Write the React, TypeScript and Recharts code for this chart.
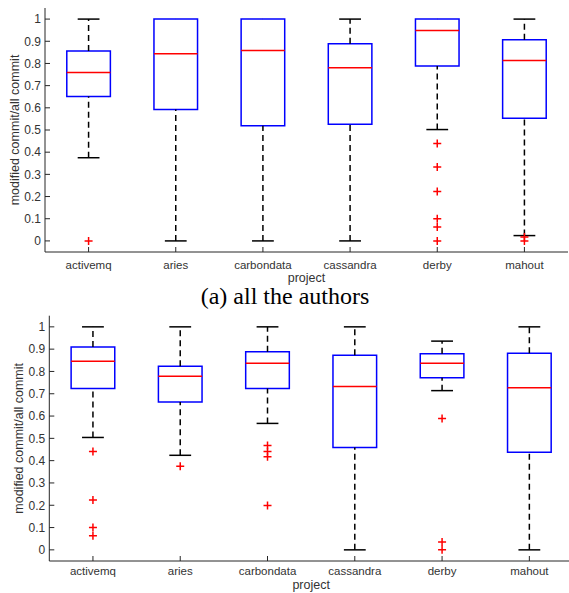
import React from 'react';
import { ComposedChart, XAxis, YAxis, Scatter, ReferenceArea, ReferenceLine } from 'recharts';

const projects = ['activemq', 'aries', 'carbondata', 'cassandra', 'derby', 'mahout'];
const yTicks = [0, 0.1, 0.2, 0.3, 0.4, 0.5, 0.6, 0.7, 0.8, 0.9, 1];
const caption = '(a) all the authors';
const xTitle = 'project';
const yTitle = 'modified commit/all commit';

// Panel (a): all the authors
const aMin = [0.375, 0, 0, 0, 0.502, 0.024];
const aQ1 = [0.651, 0.592, 0.519, 0.526, 0.789, 0.553];
const aMed = [0.759, 0.844, 0.858, 0.781, 0.949, 0.813];
const aQ3 = [0.856, 1, 1, 0.889, 1, 0.907];
const aMax = [1, 1, 1, 1, 1, 1];
const aOutliers: number[][] = [[0], [], [], [], [0.439, 0.333, 0.223, 0.1, 0.063, 0], [0.018, 0]];

// Panel (b)
const bMin = [0.504, 0.424, 0.567, 0, 0.714, 0];
const bQ1 = [0.724, 0.663, 0.723, 0.459, 0.772, 0.438];
const bMed = [0.846, 0.778, 0.837, 0.732, 0.837, 0.727];
const bQ3 = [0.91, 0.823, 0.888, 0.873, 0.879, 0.882];
const bMax = [1, 1, 1, 1, 0.936, 1];
const bOutliers: number[][] = [[0.441, 0.223, 0.1, 0.063], [0.375], [0.468, 0.441, 0.418, 0.199], [], [0.589, 0.035, 0], []];

const FONT = '"Liberation Sans", Arial, Helvetica, sans-serif';
const AXIS = '#262626';
const TXT = '#333';
const BOX_HALF = 0.25;
const CAP_HALF = 0.125;

const Plus = (props: any) => {
  const { cx, cy } = props;
  if (cx == null || cy == null) return null;
  return (
    <path d={`M${cx - 4},${cy}H${cx + 4}M${cx},${cy - 4}V${cy + 4}`} stroke="#ff0000" strokeWidth={1.5} fill="none" />
  );
};

type PanelProps = {
  min: number[]; q1: number[]; med: number[]; q3: number[]; max: number[]; outliers: number[][];
  width: number; height: number; margin: any; yAxisWidth: number; xAxisHeight: number;
  xTickMargin: number; xTitleOffset: number; yTitleX: number;
};

function Panel(p: PanelProps) {
  const pts = p.outliers.flatMap((arr, i) => arr.map((v) => ({ x: i + 1, y: v })));
  const idx = projects.map((_, i) => i);
  return (
    <ComposedChart width={p.width} height={p.height} margin={p.margin}>
      <XAxis
        type="number"
        dataKey="x"
        domain={[0.5, 6.5]}
        allowDataOverflow
        ticks={[1, 2, 3, 4, 5, 6]}
        interval={0}
        tickFormatter={(v: number) => projects[v - 1] ?? ''}
        height={p.xAxisHeight}
        tickSize={-5}
        tickMargin={p.xTickMargin}
        stroke={AXIS}
        tick={{ fontSize: 11.5, fill: TXT, fontFamily: FONT }}
        label={(lp: any) => {
          const vb = lp.viewBox || {};
          return (
            <text x={vb.x + vb.width / 2} y={vb.y + p.xTitleOffset} textAnchor="middle" fontSize={12.5} fill={TXT} fontFamily={FONT}>
              {xTitle}
            </text>
          );
        }}
      />
      <XAxis
        xAxisId="top"
        orientation="top"
        type="number"
        domain={[0.5, 6.5]}
        allowDataOverflow
        ticks={[1, 2, 3, 4, 5, 6]}
        interval={0}
        mirror
        height={0}
        tickSize={5}
        tick={false}
        stroke={AXIS}
      />
      <YAxis
        type="number"
        dataKey="y"
        domain={[-0.05, 1.05]}
        allowDataOverflow
        ticks={yTicks}
        interval={0}
        tickFormatter={(v: number) => String(v)}
        width={p.yAxisWidth}
        tickSize={-5}
        tickMargin={9}
        stroke={AXIS}
        tick={{ fontSize: 12, fill: TXT, fontFamily: FONT }}
        label={(lp: any) => {
          const vb = lp.viewBox || {};
          const cy = vb.y + vb.height / 2;
          return (
            <text x={p.yTitleX} y={cy} transform={`rotate(-90, ${p.yTitleX}, ${cy})`} textAnchor="middle" fontSize={12.5} fill={TXT} fontFamily={FONT}>
              {yTitle}
            </text>
          );
        }}
      />
      <YAxis
        yAxisId="right"
        orientation="right"
        type="number"
        domain={[-0.05, 1.05]}
        allowDataOverflow
        ticks={yTicks}
        interval={0}
        mirror
        width={0}
        tickSize={5}
        tick={false}
        stroke={AXIS}
      />
      {idx.map((i) => (
        <ReferenceLine key={`wu${i}`} segment={[{ x: i + 1, y: p.q3[i] }, { x: i + 1, y: p.max[i] }]} stroke="#000" strokeWidth={1.5} strokeDasharray="6 4" ifOverflow="visible" />
      ))}
      {idx.map((i) => (
        <ReferenceLine key={`wl${i}`} segment={[{ x: i + 1, y: p.min[i] }, { x: i + 1, y: p.q1[i] }]} stroke="#000" strokeWidth={1.5} strokeDasharray="6 4" ifOverflow="visible" />
      ))}
      {idx.filter((i) => p.max[i] > p.q3[i]).map((i) => (
        <ReferenceLine key={`cu${i}`} segment={[{ x: i + 1 - CAP_HALF, y: p.max[i] }, { x: i + 1 + CAP_HALF, y: p.max[i] }]} stroke="#000" strokeWidth={1.5} ifOverflow="visible" />
      ))}
      {idx.filter((i) => p.min[i] < p.q1[i]).map((i) => (
        <ReferenceLine key={`cl${i}`} segment={[{ x: i + 1 - CAP_HALF, y: p.min[i] }, { x: i + 1 + CAP_HALF, y: p.min[i] }]} stroke="#000" strokeWidth={1.5} ifOverflow="visible" />
      ))}
      {idx.map((i) => (
        <ReferenceArea key={`bx${i}`} x1={i + 1 - BOX_HALF} x2={i + 1 + BOX_HALF} y1={p.q1[i]} y2={p.q3[i]} fill="#ffffff" fillOpacity={1} stroke="#0000ff" strokeWidth={1.5} ifOverflow="visible" />
      ))}
      {idx.map((i) => (
        <ReferenceLine key={`md${i}`} segment={[{ x: i + 1 - BOX_HALF, y: p.med[i] }, { x: i + 1 + BOX_HALF, y: p.med[i] }]} stroke="#ff0000" strokeWidth={1.5} ifOverflow="visible" />
      ))}
      <Scatter data={pts} dataKey="y" shape={Plus} isAnimationActive={false} />
    </ComposedChart>
  );
}

export default function App() {
  return (
    <div style={{ position: 'absolute', left: 0, top: 0, width: 569, height: 593, overflow: 'hidden', background: '#fff' }}>
      <div style={{ position: 'absolute', left: 0, top: 0 }}>
        <Panel
          min={aMin} q1={aQ1} med={aMed} q3={aQ3} max={aMax} outliers={aOutliers}
          width={569} height={290} margin={{ top: 8, right: 1, left: 0, bottom: 0 }}
          yAxisWidth={45} xAxisHeight={38} xTickMargin={14} xTitleOffset={30} yTitleX={18.5}
        />
      </div>
      <div
        style={{
          position: 'absolute', left: 0, top: 284, width: 570, textAlign: 'center',
          fontFamily: '"Liberation Serif", "Times New Roman", serif', fontSize: 24, lineHeight: '24px', color: '#000',
        }}
      >
        {caption}
      </div>
      <div style={{ position: 'absolute', left: 0, top: 300 }}>
        <Panel
          min={bMin} q1={bQ1} med={bMed} q3={bQ3} max={bMax} outliers={bOutliers}
          width={575} height={293} margin={{ top: 15.7, right: 2, left: 0, bottom: 0 }}
          yAxisWidth={49.3} xAxisHeight={32} xTickMargin={11} xTitleOffset={28} yTitleX={23.5}
        />
      </div>
    </div>
  );
}
